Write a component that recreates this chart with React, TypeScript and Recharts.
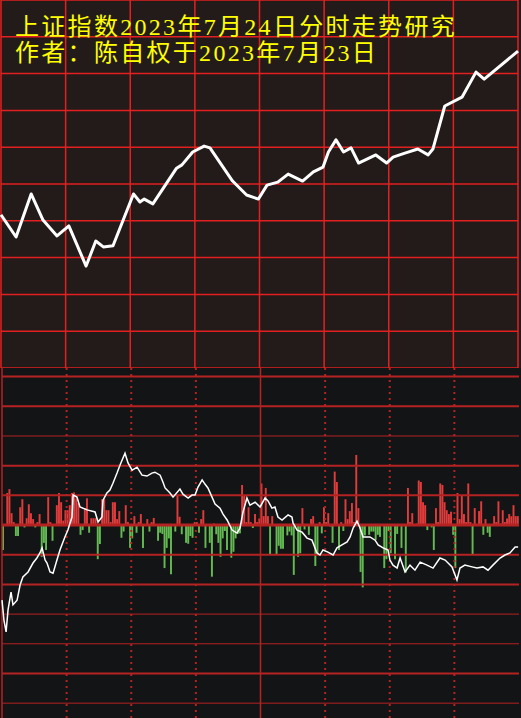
import React from 'react';
import { LineChart, Line, XAxis, YAxis, CartesianGrid, ComposedChart, Bar, Cell, ReferenceLine } from 'recharts';

// minutes of the trading day (0..240), grid every half hour
const MINUTE_TICKS = [0, 30, 60, 90, 120, 150, 180, 210, 240];
const PRICE_TICKS = [0, 1, 2, 3, 4, 5, 6, 7, 8, 9, 10];
const FLOW_LEVELS = [-6, -5, -4, -3, -2, -1, 0, 1, 2, 3, 4, 5];

const TITLE_LINE_1 = '上证指数2023年7月24日分时走势研究';
const TITLE_LINE_2 = '作者：陈自权于2023年7月23日';

// upper panel: forecast curve (grid units)
const priceMinutes = [0, 7, 14, 19.5, 26, 31.5, 39.5, 44, 47.5, 52, 61.5, 64.5, 66.5, 70.5, 81.5, 84, 89, 94.3, 97, 107.5, 114, 119.5, 123.5, 128.5, 133.3, 140, 145, 149.5, 152, 155.5, 159, 162.5, 166, 174, 179, 182, 187.5, 193.5, 198.3, 200.5, 206, 214, 220.5, 224.3, 240];
const priceLevels = [4.16, 3.56, 4.73, 4.02, 3.59, 3.86, 2.77, 3.45, 3.29, 3.32, 4.73, 4.51, 4.59, 4.46, 5.43, 5.52, 5.87, 6.03, 5.98, 5.08, 4.7, 4.59, 4.97, 5.05, 5.27, 5.08, 5.33, 5.46, 5.87, 6.2, 5.87, 5.98, 5.57, 5.79, 5.57, 5.73, 5.84, 5.95, 5.79, 5.95, 7.12, 7.36, 8.04, 7.85, 8.61];

// lower panel: per-minute flow bars, one array per half hour
const flowSeg1 = [-0.84, 0, 1.08, 1.21, 0.4, 0.1, -0.37, -0.37, 0.6, 0.87, -0.08, 0.23, 0.7, 0.4, 0.2, -0.08, 0.1, 0.37, -1.07, -0.6, -0.84, 0.94, 0.1, -0.53, 0, 0.67, 1.08, 0.77, 0.15, 0.5];
const flowSeg2 = [0.5, 0.67, 1.08, 1.1, 0.9, 0.74, -0.33, -0.17, 0.57, 0.9, -0.26, 0.23, 0.23, 0.23, -1.15, -0.64, 0.87, 0.87, 0.5, 0.5, 0.1, 0.77, 0.77, 0.2, 0.47, -0.43, -0.22, 0.67, 0.1, -0.77];
const flowSeg3 = [-0.45, 0.3, -0.26, 0.1, 0.37, -0.77, 0, 0.2, -0.22, 0.1, 0.24, 0, -0.53, -0.26, -0.3, -1.45, -0.77, -0.45, -1.66, 0, -0.22, 0.98, 0.28, -0.31, 0, -0.6, -0.63, -0.37, -0.43, 0.1];
const flowSeg4 = [0.1, -0.26, 0.2, 0.5, -0.77, 0, -0.6, -1.74, 0.05, -0.31, -0.6, -1.07, -0.45, -0.2, -0.84, 0, -1.1, -0.9, -0.45, -0.3, -0.28, 1.35, 0.98, 0.1, 0.6, 0.1, -0.1, 0.37, 0.1, 0.22];
const flowSeg5 = [1.4, 0.3, 1.25, 0.3, -0.98, 0.3, 0, -0.98, -0.7, -0.8, -0.8, 0, -0.35, -0.22, -0.35, -1.68, 0, -1.07, -0.95, 0.57, -0.15, 0, -0.33, 0.2, 0.3, -1.38, -0.95, 0.1, -0.28, 0.6];
const flowSeg6 = [0.1, 0.4, -0.05, -0.6, 1.8, 1.45, -0.84, 0.1, -0.2, 0.87, 0.2, 0.47, 0.74, 0.1, 2.36, 0.57, -1.58, -2.1, -0.35, 0, -0.33, -0.22, -0.22, -0.5, -0.33, -0.4, 0, -1.45, -1.15, -0.2];
const flowSeg7 = [-0.95, 0, -1.15, -0.3, 0, -0.77, 0, -1.6, 1.25, 0.1, 0.4, 0, 0.05, 1.5, 1.45, 0.77, 0.67, -0.17, 0, -0.08, -0.84, 0.57, 0.1, 1.4, 1.35, 0.77, 0.5, 0.37, 0.45, -0.33];
const flowSeg8 = [-1.45, 1.08, 0.2, 0.98, 0.37, 0.1, 1.4, 0.1, -0.98, 0.57, 0, 0.47, 0.8, -0.33, 0.2, -0.26, -0.4, 0, 0.3, 0.1, 0.8, 0.05, 0.5, 0.1, 0.22, 0.37, 0.3, 0.67, 0.3, 0.3];

// lower panel: white reference line
const avgMinutes = [0, 0.9, 1.9, 2.8, 4.2, 5.1, 7, 8.4, 9.7, 12.1, 14.4, 16.2, 17.6, 18.6, 20, 20.9, 22.3, 23.7, 25.5, 26.9, 29.2, 30.6, 31.6, 32.5, 33, 34.8, 36.2, 39.5, 43.2, 44.6, 46.4, 46.9, 48.7, 50.1, 51.5, 53.4, 54.8, 57.1, 58.5, 60.4, 62.7, 65, 67.3, 69.6, 71, 73.4, 74.7, 75.7, 78, 79.4, 82.6, 84, 86.4, 88.2, 89.6, 91, 92.9, 94.2, 95.6, 97.5, 98.9, 101.2, 102.6, 104.5, 106.8, 109.1, 110.5, 111.9, 113.7, 115.1, 117.5, 119.8, 122.1, 123.5, 125.3, 126.7, 128.1, 130, 132.8, 134.6, 135.1, 137, 139.3, 141.6, 143.9, 146.2, 147.6, 149, 151.3, 153.7, 155.5, 157.8, 160.2, 161.6, 163, 164.8, 166.2, 167.6, 170.8, 173.2, 174.6, 176.9, 179.2, 180.1, 181.5, 183.4, 184.8, 187.1, 189.4, 191.7, 194.1, 197.3, 200.1, 203.3, 205.7, 208.9, 211.2, 212.6, 214.9, 218.2, 220.5, 223.3, 225.6, 227.9, 231.2, 233.5, 235.8, 238.2, 239.6];
const avgLevels = [-2.53, -3.2, -3.6, -2.86, -2.26, -2.69, -2.53, -2.02, -1.75, -1.58, -1.28, -1.11, -0.94, -0.77, -1.18, -1.28, -1.58, -1.62, -1.18, -0.84, -0.4, -0.17, 0.07, 0.27, 1.01, 0.94, 0.61, 0.51, 0.44, 0.1, 0.27, 0.84, 1.08, 1.18, 1.41, 1.75, 2.02, 2.42, 2.09, 1.85, 1.95, 1.68, 1.65, 1.75, 1.78, 1.68, 1.45, 1.25, 1.08, 0.94, 1.21, 1.04, 0.91, 1.01, 1.01, 1.28, 1.52, 1.38, 1.25, 0.94, 0.71, 0.57, 0.37, 0.17, -0.17, -0.27, -0.1, 0.44, 0.91, 0.67, 0.77, 0.61, 0.91, 0.81, 0.57, 0.61, 0.27, 0.17, 0.34, 0.27, 0.07, -0.17, -0.24, -0.44, -0.51, -0.94, -1.01, -0.84, -0.91, -1.01, -0.77, -0.67, -0.57, -0.4, -0.1, 0.13, -0.1, -0.4, -0.4, -0.51, -0.67, -0.77, -0.84, -1.18, -1.35, -1.45, -1.11, -1.58, -1.35, -1.52, -1.25, -1.35, -1.45, -1.11, -1.18, -1.41, -1.85, -1.45, -1.35, -1.41, -1.45, -1.41, -1.52, -1.35, -1.11, -1.01, -0.94, -0.74, -0.74];

const TOP_BG = '#231b1a';
const BOTTOM_BG = '#131416';
const TOP_GRID = '#e22020';
const BOTTOM_GRID = '#b52222';
const UP_COLOR = '#e03c3c';
const DOWN_COLOR = '#64ba52';
const THICK_LEVELS = [5, 4, 2, 1, -1, -2, -5];
const FLOW_DOMAIN = [-6.5, 5.29];

const priceData = priceMinutes.map((t, i) => ({ t, v: priceLevels[i] }));
const flowValues = [...flowSeg1, ...flowSeg2, ...flowSeg3, ...flowSeg4, ...flowSeg5, ...flowSeg6, ...flowSeg7, ...flowSeg8];
const flowData = flowValues.map((f, i) => ({ t: i + 0.5, f }));
const avgData = avgMinutes.map((t, i) => ({ t, v: avgLevels[i] }));

const titleStyle: React.CSSProperties = {
  position: 'absolute',
  left: 15,
  color: '#ffff00',
  fontFamily: '"Liberation Serif", "Noto Sans CJK SC", serif',
  fontSize: 24,
  lineHeight: '24px',
  letterSpacing: 2.3,
  whiteSpace: 'nowrap',
};

const bottomMargin = { top: 0, right: 2, bottom: 0, left: 2 };

export default function App() {
  return (
    <div style={{ position: 'absolute', left: 0, top: 0, width: 521, height: 718, background: BOTTOM_BG, overflow: 'hidden' }}>
      <div style={{ position: 'absolute', left: 0, top: 0, width: 521, height: 368, background: TOP_BG }}>
        <LineChart width={521} height={368} data={priceData} margin={{ top: 0, right: 3, bottom: 0, left: 1 }}>
          <XAxis dataKey="t" type="number" domain={[0, 240]} ticks={MINUTE_TICKS} hide />
          <YAxis type="number" domain={[0, 10]} ticks={PRICE_TICKS} hide />
          <CartesianGrid stroke={TOP_GRID} strokeWidth={1.5} />
          <Line type="linear" dataKey="v" stroke="#ffffff" strokeWidth={3} dot={false} strokeLinejoin="round" isAnimationActive={false} />
        </LineChart>
      </div>
      <div style={{ ...titleStyle, top: 15 }}>{TITLE_LINE_1}</div>
      <div style={{ ...titleStyle, top: 41 }}>{TITLE_LINE_2}</div>
      <div style={{ position: 'absolute', left: 0, top: 368, width: 521, height: 350 }}>
        <ComposedChart width={521} height={350} data={flowData} margin={bottomMargin}>
          <XAxis dataKey="t" type="number" domain={[0, 240]} ticks={MINUTE_TICKS} hide />
          <YAxis type="number" domain={FLOW_DOMAIN} allowDataOverflow hide />
          <Bar dataKey="f" barSize={2.5} isAnimationActive={false}>
            {flowData.map((d, i) => (
              <Cell key={i} fill={d.f >= 0 ? UP_COLOR : DOWN_COLOR} />
            ))}
          </Bar>
          {FLOW_LEVELS.map(k => (
            <ReferenceLine key={'h' + k} y={k} stroke={BOTTOM_GRID} strokeWidth={k === 0 ? 3 : THICK_LEVELS.includes(k) ? 2 : 1} />
          ))}
          {MINUTE_TICKS.filter(m => m > 0 && m < 240).map(m => (
            <ReferenceLine key={'v' + m} x={m} stroke={BOTTOM_GRID} strokeWidth={m === 120 ? 1.5 : 2} strokeDasharray={m === 120 ? undefined : '2 4'} />
          ))}
          <ReferenceLine x={0} stroke={BOTTOM_GRID} strokeWidth={1.5} />
        </ComposedChart>
      </div>
      <div style={{ position: 'absolute', left: 0, top: 368, width: 521, height: 350 }}>
        <LineChart width={521} height={350} data={avgData} margin={bottomMargin}>
          <XAxis dataKey="t" type="number" domain={[0, 240]} hide />
          <YAxis type="number" domain={FLOW_DOMAIN} allowDataOverflow hide />
          <Line type="linear" dataKey="v" stroke="#ffffff" strokeWidth={1.5} dot={false} isAnimationActive={false} />
        </LineChart>
      </div>
    </div>
  );
}
